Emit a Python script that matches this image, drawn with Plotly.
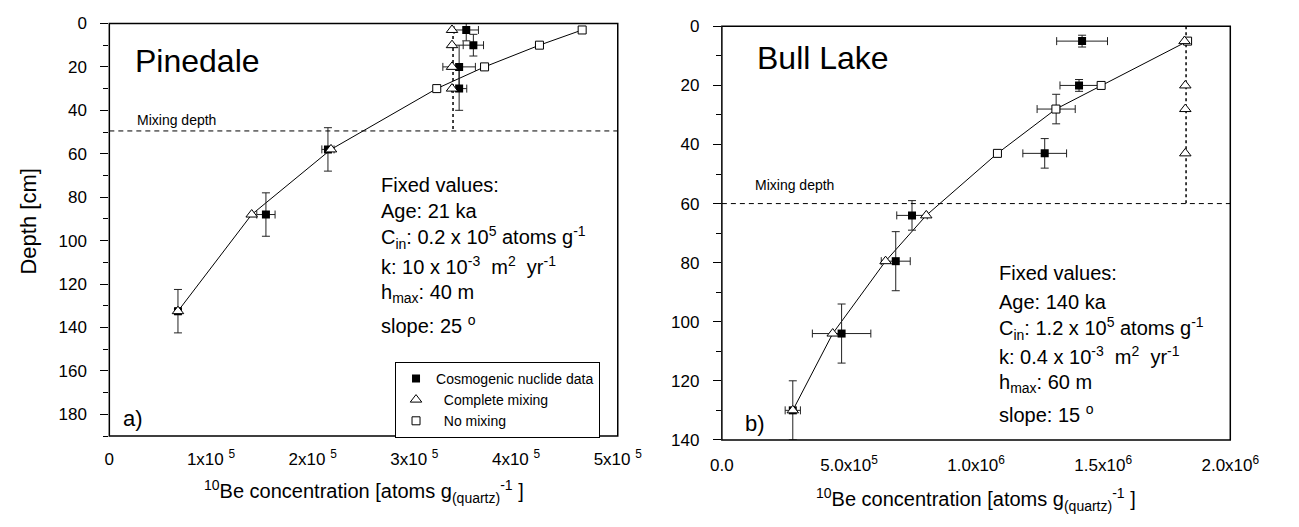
import plotly.graph_objects as go

FONT = "Liberation Sans, Arial, sans-serif"
BLACK = "#000000"

# ---------------- Pinedale (panel a) ----------------
pd_data_depth = [3, 10, 20, 30, 58, 88, 132.5]
pd_data_conc = [3.51e5, 3.58e5, 3.44e5, 3.44e5, 2.15e5, 1.54e5, 0.675e5]
pd_data_conc_err = [0.12e5, 0.10e5, 0.16e5, 0.075e5, 0.06e5, 0.09e5, 0.02e5]
pd_data_depth_err = [5, 5, 10, 10, 10, 10, 10]

pd_mix_depth = [3, 10, 20, 30, 58, 88, 132.5]
pd_mix_conc = [3.37e5, 3.37e5, 3.37e5, 3.37e5, 2.18e5, 1.40e5, 0.675e5]

pd_nomix_depth = [3, 10, 20, 30, 58, 88, 132.5]
pd_nomix_conc = [4.65e5, 4.23e5, 3.69e5, 3.22e5, 2.18e5, 1.40e5, 0.675e5]

pd_mixing_depth = 49.5
pd_mixline_depth = [3, 49.5]
pd_mixline_conc = [3.38e5, 3.38e5]

pd_xtick_vals = [0, 1e5, 2e5, 3e5, 4e5, 5e5]
pd_xtick_text = ["0", "1x10 <sup>5</sup>", "2x10 <sup>5</sup>", "3x10 <sup>5</sup>",
                 "4x10 <sup>5</sup>", "5x10 <sup>5</sup>"]
pd_xmax = 5e5
pd_ymax = 190

pd_fixed = ["Fixed values:", "Age: 21 ka",
            "C<sub>in</sub>: 0.2 x 10<sup>5</sup> atoms g<sup>-1</sup>",
            "k: 10 x 10<sup>-3</sup>\u00a0\u00a0m<sup>2</sup>\u00a0\u00a0yr<sup>-1</sup>",
            "h<sub>max</sub>: 40 m", "slope: 25 <sup>o</sup>"]
pd_fixed_depth = [74.5, 86.5, 98.5, 111.5, 124.5, 138.5]
pd_fixed_x = 2.65e5

# ---------------- Bull Lake (panel b) ----------------
bl_data_depth = [5, 20, 28, 43, 64, 79.5, 104, 130]
bl_data_conc = [1.417e6, 1.405e6, 1.315e6, 1.27e6, 0.748e6, 0.684e6, 0.471e6, 0.279e6]
bl_data_conc_err = [0.10e6, 0.075e6, 0.075e6, 0.086e6, 0.06e6, 0.057e6, 0.115e6, 0.03e6]
bl_data_depth_err = [2, 2, 5, 5, 5, 10, 10, 10]

bl_mix_depth = [5, 20, 28, 43, 64, 79.5, 104, 130]
bl_mix_conc = [1.82e6, 1.823e6, 1.823e6, 1.823e6, 0.804e6, 0.644e6, 0.436e6, 0.279e6]

bl_nomix_depth = [5, 20, 28, 43, 64, 79.5, 104, 130]
bl_nomix_conc = [1.832e6, 1.492e6, 1.314e6, 1.084e6, 0.804e6, 0.644e6, 0.436e6, 0.279e6]

bl_mixing_depth = 60
bl_mixline_depth = [0, 60]
bl_mixline_conc = [1.826e6, 1.826e6]

bl_xtick_vals = [0, 0.5e6, 1.0e6, 1.5e6, 2.0e6]
bl_xtick_text = ["0.0", "5.0x10<sup>5</sup>", "1.0x10<sup>6</sup>", "1.5x10<sup>6</sup>",
                 "2.0x10<sup>6</sup>"]
bl_xmax = 2e6
bl_ymax = 140

bl_fixed = ["Fixed values:", "Age: 140 ka",
            "C<sub>in</sub>: 1.2 x 10<sup>5</sup> atoms g<sup>-1</sup>",
            "k: 0.4 x 10<sup>-3</sup>\u00a0\u00a0m<sup>2</sup>\u00a0\u00a0yr<sup>-1</sup>",
            "h<sub>max</sub>: 60 m", "slope: 15 <sup>o</sup>"]
bl_fixed_depth = [83.5, 93.2, 102.4, 111.5, 120.8, 131]
bl_fixed_x = 1.084e6

n_mark_pd = 4  # no-mixing markers drawn above the mixing depth
n_mark_bl = 4

fig = go.Figure()


def add_panel(xa, ya, d_depth, d_conc, d_cerr, d_derr, m_depth, m_conc,
              n_depth, n_conc, ml_depth, ml_conc, nmark, legend):
    fig.add_trace(go.Scatter(x=n_conc, y=n_depth, mode="lines",
                             line=dict(color=BLACK, width=1),
                             xaxis=xa, yaxis=ya, showlegend=False, hoverinfo="skip"))
    fig.add_trace(go.Scatter(x=ml_conc, y=ml_depth, mode="lines",
                             line=dict(color=BLACK, width=1.5, dash="dot"),
                             xaxis=xa, yaxis=ya, showlegend=False, hoverinfo="skip"))
    fig.add_trace(go.Scatter(
        x=d_conc, y=d_depth, mode="markers", name="Cosmogenic nuclide data",
        marker=dict(symbol="square", size=8, color=BLACK),
        error_x=dict(type="data", array=d_cerr, color="#222222", thickness=1, width=4),
        error_y=dict(type="data", array=d_derr, color="#222222", thickness=1, width=4),
        xaxis=xa, yaxis=ya, showlegend=legend, legendrank=1, legendgroup="a"))
    fig.add_trace(go.Scatter(
        x=n_conc[:nmark], y=n_depth[:nmark], mode="markers", name="\u00a0\u00a0No mixing",
        marker=dict(symbol="square", size=8, color="white", line=dict(color=BLACK, width=1)),
        xaxis=xa, yaxis=ya, showlegend=legend, legendrank=3, legendgroup="c"))
    fig.add_trace(go.Scatter(
        x=m_conc, y=m_depth, mode="markers", name="\u00a0\u00a0Complete mixing",
        marker=dict(symbol="triangle-up", size=10, color="white",
                    line=dict(color=BLACK, width=1)),
        xaxis=xa, yaxis=ya, showlegend=legend, legendrank=2, legendgroup="b"))


add_panel("x", "y", pd_data_depth, pd_data_conc, pd_data_conc_err, pd_data_depth_err,
          pd_mix_depth, pd_mix_conc, pd_nomix_depth, pd_nomix_conc,
          pd_mixline_depth, pd_mixline_conc, n_mark_pd, True)
add_panel("x2", "y2", bl_data_depth, bl_data_conc, bl_data_conc_err, bl_data_depth_err,
          bl_mix_depth, bl_mix_conc, bl_nomix_depth, bl_nomix_conc,
          bl_mixline_depth, bl_mixline_conc, n_mark_bl, False)

W, H = 1299, 527
Lx = [100.5 / W, 625.5 / W]
Rx = [733 / W, 1258 / W]
Ly = [1 - 443 / H, 1 - 15 / H]
Ry = [1 - 447 / H, 1 - 18 / H]

tickfont = dict(family=FONT, size=17, color=BLACK)


def lab_x(domain, anchor, rng, vals, text, standoff):
    return dict(domain=domain, anchor=anchor, range=rng, tickmode="array", tickvals=vals,
                ticktext=text, ticks="", showline=False, showgrid=False, zeroline=False,
                tickfont=tickfont, ticklabelstandoff=standoff)


def tick_x(over, anchor, rng, n, side, direction):
    vals = [rng[1] * k / n for k in range(n + 1)]
    return dict(overlaying=over, anchor=anchor, side=side, range=rng, tickmode="array",
                tickvals=vals, ticks=direction, ticklen=6, tickwidth=1.2, tickcolor=BLACK,
                showticklabels=False, showline=False, showgrid=False, zeroline=False)


def lab_y(domain, anchor, rng):
    return dict(domain=domain, anchor=anchor, range=rng, tick0=0, dtick=20, ticks="outside",
                ticklen=8, tickwidth=1.2, tickcolor=BLACK, showline=False,
                showgrid=False, zeroline=False, tickfont=tickfont,
                ticklabelstandoff=10,
                minor=dict(dtick=10, ticks="outside", ticklen=5, tickwidth=1.2,
                           tickcolor=BLACK))


def tick_y(over, anchor, rng):
    return dict(overlaying=over, anchor=anchor, side="right", range=rng, tick0=0, dtick=10,
                ticks="inside", ticklen=6, tickwidth=1.2, tickcolor=BLACK,
                showticklabels=False, showline=False, showgrid=False, zeroline=False)


fig.update_layout(
    width=W, height=H, margin=dict(l=0, r=0, t=0, b=0), autosize=False,
    plot_bgcolor="white", paper_bgcolor="white",
    font=dict(family=FONT, color=BLACK),
    xaxis=lab_x(Lx, "y", [0, pd_xmax], pd_xtick_vals, pd_xtick_text, 11),
    yaxis=lab_y(Ly, "x", [pd_ymax, 0]),
    xaxis2=lab_x(Rx, "y2", [0, bl_xmax], bl_xtick_vals, bl_xtick_text, 13),
    yaxis2=lab_y(Ry, "x2", [bl_ymax, 0]),
    xaxis3=tick_x("x", "y", [0, pd_xmax], 9, "bottom", "outside"),
    xaxis5=tick_x("x", "y", [0, pd_xmax], 9, "top", "inside"),
    yaxis3=tick_y("y", "x", [pd_ymax, 0]),
    xaxis4=tick_x("x2", "y2", [0, bl_xmax], 7, "bottom", "outside"),
    xaxis6=tick_x("x2", "y2", [0, bl_xmax], 7, "top", "inside"),
    yaxis4=tick_y("y2", "x2", [bl_ymax, 0]),
    legend=dict(x=395.5 / W, y=1 - 366 / H, xanchor="left", yanchor="top",
                bgcolor="white", bordercolor=BLACK, borderwidth=1,
                font=dict(family=FONT, size=14, color=BLACK), tracegroupgap=0),
)

# frames (paper coordinates, not clipped) and mixing depth lines
for xr, yr, md, dx, dy in (("x", "y", pd_mixing_depth, Lx, Ly),
                           ("x2", "y2", bl_mixing_depth, Rx, Ry)):
    fig.add_shape(type="line", xref=xr + " domain", yref=yr, x0=0, x1=1, y0=md, y1=md,
                  line=dict(color=BLACK, width=1, dash="5px,4px"))
    fig.add_shape(type="rect", xref="paper", yref="paper", x0=dx[0], x1=dx[1],
                  y0=dy[0], y1=dy[1], line=dict(color=BLACK, width=1.5), layer="above")

ann = []


def txt(text, x, y, xref, yref, size, xanchor="left", **kw):
    ann.append(dict(text=text, x=x, y=y, xref=xref, yref=yref, showarrow=False,
                    xanchor=xanchor, yanchor="middle",
                    font=dict(family=FONT, size=size, color=BLACK), **kw))


txt("Pinedale", 0.23e5, 17.5, "x", "y", 32)
txt("Mixing depth", 0.25e5, 44.5, "x", "y", 14)
txt("a)", 0.117e5, 182, "x", "y", 22)
for t, d in zip(pd_fixed, pd_fixed_depth):
    txt(t, pd_fixed_x, d, "x", "y", 20)

txt("Bull Lake", 0.13e6, 10.6, "x2", "y2", 32)
txt("Mixing depth", 0.121e6, 53.8, "x2", "y2", 14)
txt("b)", 0.085e6, 134.6, "x2", "y2", 22)
for t, d in zip(bl_fixed, bl_fixed_depth):
    txt(t, bl_fixed_x, d, "x2", "y2", 20)

xtitle = "<sup>10</sup>Be concentration [atoms g<sub>(quartz)</sub><sup>-1</sup> ]"
txt(xtitle, (Lx[0] + Lx[1]) / 2, 1 - 501 / H, "paper", "paper", 20, xanchor="center")
txt(xtitle, (Rx[0] + Rx[1]) / 2, 1 - 509 / H, "paper", "paper", 20, xanchor="center")
txt("Depth [cm]", 17 / W, 1 - 220 / H, "paper", "paper", 22, xanchor="center",
    textangle=-90)

fig.update_layout(annotations=ann)
fig.write_html("out.html")
